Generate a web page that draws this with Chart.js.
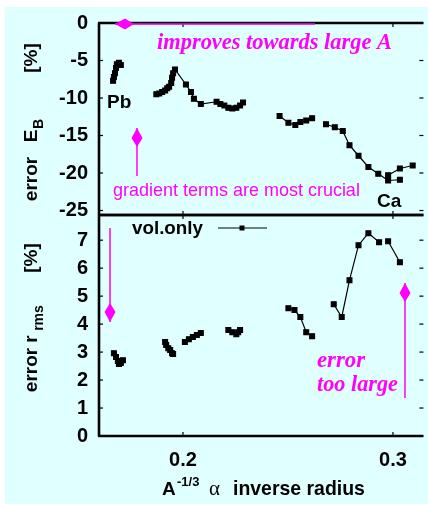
<!DOCTYPE html>
<html>
<head>
<meta charset="utf-8">
<script src="https://cdn.jsdelivr.net/npm/chart.js@4.4.0/dist/chart.umd.min.js"></script>
<style>
body { margin: 0; background: #fff; }
#wrap { position: relative; width: 428px; height: 506px; }
#wrap canvas { position: absolute; left: 0; top: 0; }
</style>
</head>
<body>
<div id="wrap">
<canvas id="topChart" width="428" height="506"></canvas>
<canvas id="botChart" width="428" height="506"></canvas>
</div>
<script>
// error of binding energy E_B [%], one array pair per isotope chain
const ebX1 = [0.1667, 0.1671, 0.1676, 0.1681, 0.1685, 0.1695, 0.1704];
const ebY1 = [-7.7, -7.2, -6.7, -6.0, -5.5, -5.3, -5.6];
const ebX2 = [0.1873, 0.1887, 0.1901, 0.1915, 0.1925, 0.1934, 0.1944, 0.1948, 0.1953, 0.1962,
              0.2014, 0.2038, 0.2052, 0.2085, 0.2160,
              0.2178, 0.2197, 0.2216, 0.2235, 0.2254, 0.2272, 0.2286];
const ebY2 = [-9.5, -9.4, -9.2, -9.0, -8.7, -8.5, -8.0, -7.3, -6.7, -6.2,
              -8.2, -9.2, -10.1, -10.8, -10.5,
              -10.8, -11.0, -11.3, -11.4, -11.3, -11.0, -10.6];
const ebX3 = [0.2460, 0.2502, 0.2535, 0.2559, 0.2587, 0.2615];
const ebY3 = [-12.4, -13.3, -13.6, -13.2, -13.0, -12.7];
const ebX4 = [0.2681, 0.2723, 0.2761, 0.2793, 0.2836, 0.2883, 0.2930, 0.2977, 0.3033];
const ebY4 = [-13.5, -13.9, -14.4, -16.3, -17.7, -19.2, -20.1, -21.0, -20.9];
const ebX5 = [0.2977, 0.3033, 0.3094];
const ebY5 = [-20.3, -19.4, -19.0];

// error of rms radius [%]
const rmsX1 = [0.1671, 0.1681, 0.1690, 0.1695, 0.1704, 0.1714];
const rmsY1 = [2.96, 2.82, 2.68, 2.57, 2.61, 2.71];
const rmsX2 = [0.1915, 0.1920, 0.1930, 0.1939, 0.1948, 0.1953];
const rmsY2 = [3.36, 3.25, 3.14, 3.07, 2.96, 2.93];
const rmsX3 = [0.2009, 0.2028, 0.2047, 0.2066, 0.2085];
const rmsY3 = [3.36, 3.46, 3.54, 3.61, 3.68];
const rmsX4 = [0.2216, 0.2235, 0.2254, 0.2263, 0.2272];
const rmsY4 = [3.79, 3.71, 3.64, 3.71, 3.79];
const rmsX5 = [0.2502, 0.2531, 0.2559, 0.2587, 0.2615];
const rmsY5 = [4.57, 4.50, 4.25, 3.71, 3.57];
const rmsX6 = [0.2718, 0.2756, 0.2793, 0.2836, 0.2883, 0.2934];
const rmsY6 = [4.71, 4.25, 5.57, 6.82, 7.25, 6.93];
const rmsX7 = [0.2977, 0.3033];
const rmsY7 = [6.96, 6.21];

const xTicks = [0.2, 0.3];

const MAGENTA = '#ff00ff';
const SANS = '"Liberation Sans", Arial, sans-serif';
const SERIF = '"Liberation Serif", "Times New Roman", serif';

function chain(xs, ys) {
  return {
    data: xs.map((x, i) => ({ x: x, y: ys[i] })),
    showLine: true,
    borderColor: '#000',
    backgroundColor: '#000',
    borderWidth: 1.2,
    pointStyle: 'rect',
    pointRadius: 3.4,
    pointHoverRadius: 3.4
  };
}

function line(ctx, x1, y1, x2, y2) {
  ctx.beginPath(); ctx.moveTo(x1, y1); ctx.lineTo(x2, y2); ctx.stroke();
}

// text squeezed/stretched to a given width by picking the font size
function fitText(ctx, text, x, y, width, style, family) {
  ctx.font = style + ' 100px ' + family;
  const size = 100 * width / ctx.measureText(text).width;
  ctx.font = style + ' ' + size.toFixed(2) + 'px ' + family;
  ctx.fillText(text, x, y);
}

// gnuplot-like filled arrow, head at (x2,y2)
function arrow(ctx, x1, y1, x2, y2) {
  const ang = Math.atan2(y2 - y1, x2 - x1);
  ctx.save();
  ctx.strokeStyle = MAGENTA; ctx.fillStyle = MAGENTA; ctx.lineWidth = 1.5;
  line(ctx, x1, y1, x2, y2);
  ctx.translate(x2, y2); ctx.rotate(ang);
  ctx.beginPath();
  ctx.moveTo(0, 0); ctx.lineTo(-10, -5.5); ctx.lineTo(-19, 0); ctx.lineTo(-10, 5.5);
  ctx.closePath(); ctx.fill();
  ctx.restore();
}

function frameAndTicks(ctx, chart) {
  const a = chart.chartArea, ys = chart.scales.y, xs = chart.scales.x;
  ctx.save();
  ctx.strokeStyle = '#000';
  ctx.lineWidth = 1.2;
  ys.ticks.forEach(t => {
    const y = ys.getPixelForValue(t.value);
    line(ctx, a.left, y, a.left + 4, y);
    line(ctx, a.right - 4, y, a.right, y);
  });
  xTicks.forEach(v => {
    const x = xs.getPixelForValue(v);
    line(ctx, x, a.top, x, a.top + 4);
    line(ctx, x, a.bottom - 4, x, a.bottom);
  });
  ctx.lineWidth = 2.6;
  line(ctx, a.left, a.top, a.left, a.bottom);
  line(ctx, a.left - 1, a.top, a.right, a.top);
  line(ctx, a.left - 1, a.bottom, a.right, a.bottom);
  ctx.restore();
}

// rotated words, each centred at a given screen y
function vText(ctx, text, x, y, font) {
  ctx.save();
  ctx.translate(x, y); ctx.rotate(-Math.PI / 2);
  ctx.font = font; ctx.textAlign = 'center'; ctx.textBaseline = 'middle';
  ctx.fillStyle = '#000';
  ctx.fillText(text, 0, 0);
  ctx.restore();
}

function yTitle(ctx, parts) {
  parts.forEach(p => vText(ctx, p[0], p[1], p[2], p[3]));
}

const TF = 'bold 19px ' + SANS, TS = 'bold 14px ' + SANS;

const topDecor = {
  id: 'topDecor',
  beforeDraw(chart) {
    const ctx = chart.ctx;
    ctx.save();
    ctx.fillStyle = '#e0ffff';
    ctx.fillRect(5, 7, 423, 497);
    ctx.restore();
  },
  afterDraw(chart) {
    const ctx = chart.ctx;
    frameAndTicks(ctx, chart);
    ctx.save();
    arrow(ctx, 315, 24, 115, 24);
    ctx.fillStyle = MAGENTA;
    ctx.textBaseline = 'alphabetic'; ctx.textAlign = 'left';
    fitText(ctx, 'improves towards large A', 157, 49, 235, 'italic bold', SERIF);
    arrow(ctx, 137, 176, 137, 128);
    fitText(ctx, 'gradient terms are most crucial', 113, 196, 247, 'normal', SANS);
    ctx.fillStyle = '#000';
    ctx.font = 'bold 19px ' + SANS;
    ctx.fillText('Pb', 107, 108);
    ctx.fillText('Ca', 377, 207);
    ctx.restore();
    yTitle(ctx, [
      ['error', 32, 179, TF], ['E', 32, 136, TF], ['B', 39, 124, TS], ['[%]', 32, 58, TF]
    ]);
  }
};

const botDecor = {
  id: 'botDecor',
  afterDraw(chart) {
    const ctx = chart.ctx;
    frameAndTicks(ctx, chart);
    ctx.save();
    arrow(ctx, 110, 228, 110, 322);
    arrow(ctx, 405, 398, 405, 283);
    ctx.fillStyle = MAGENTA;
    ctx.textAlign = 'left'; ctx.textBaseline = 'alphabetic';
    fitText(ctx, 'error', 317, 367, 48, 'italic bold', SERIF);
    fitText(ctx, 'too large', 317, 391, 81, 'italic bold', SERIF);
    // key
    ctx.fillStyle = '#000';
    ctx.textBaseline = 'middle';
    fitText(ctx, 'vol.only', 132, 229, 71, 'bold', SANS);
    ctx.strokeStyle = '#000'; ctx.lineWidth = 1.2;
    line(ctx, 218, 228, 267, 228);
    ctx.fillRect(239.5, 225.5, 5, 5);
    ctx.restore();
    yTitle(ctx, [
      ['error', 32, 370, TF], ['r', 32, 339, TF], ['rms', 39, 318, TS], ['[%]', 32, 258, TF]
    ]);
    // x title, pieces placed where they sit in the original
    ctx.save();
    ctx.fillStyle = '#000'; ctx.textBaseline = 'alphabetic'; ctx.textAlign = 'left';
    const by = 495;
    ctx.font = 'bold 19px ' + SANS; ctx.fillText('A', 162, by);
    ctx.font = 'bold 13px ' + SANS; ctx.fillText('-1/3', 177, by - 9);
    ctx.font = '21px ' + SERIF; ctx.fillText('\u03b1', 209, by);
    fitText(ctx, 'inverse radius', 233, by, 132, 'bold', SANS);
    ctx.restore();
  }
};

const xScale = (show) => ({
  type: 'linear',
  min: 0.16,
  max: 0.3145,
  display: show,
  grid: { display: false, drawTicks: false },
  border: { display: false },
  afterBuildTicks: s => { s.ticks = xTicks.map(v => ({ value: v })); },
  afterFit: s => { s.height = show ? 70 : 0; },
  ticks: {
    color: '#000',
    padding: 12,
    font: { family: SANS, size: 20, weight: 'bold' },
    callback: v => v.toFixed(1)
  }
});

const yScale = (min, max, step) => ({
  type: 'linear',
  min: min,
  max: max,
  grid: { display: false, drawTicks: false },
  border: { display: false },
  afterFit: s => { s.width = 99; },
  ticks: {
    stepSize: step,
    includeBounds: false,
    color: '#000',
    padding: 11,
    font: { family: SANS, size: 20, weight: 'bold' }
  }
});

const common = {
  responsive: false,
  animation: false,
  events: [],
  plugins: { legend: { display: false }, tooltip: { enabled: false } }
};

new Chart(document.getElementById('topChart'), {
  type: 'scatter',
  data: {
    datasets: [chain(ebX1, ebY1), chain(ebX2, ebY2), chain(ebX3, ebY3), chain(ebX4, ebY4), chain(ebX5, ebY5)]
  },
  options: Object.assign({}, common, {
    layout: { padding: { top: 15, right: 0, bottom: 291, left: 0 } },
    scales: { x: xScale(false), y: yScale(-25.6, 0, 5) }
  }),
  plugins: [topDecor]
});

new Chart(document.getElementById('botChart'), {
  type: 'scatter',
  data: {
    datasets: [chain(rmsX1, rmsY1), chain(rmsX2, rmsY2), chain(rmsX3, rmsY3), chain(rmsX4, rmsY4),
               chain(rmsX5, rmsY5), chain(rmsX6, rmsY6), chain(rmsX7, rmsY7)]
  },
  options: Object.assign({}, common, {
    layout: { padding: { top: 215, right: 0, bottom: 0, left: 0 } },
    scales: { x: xScale(true), y: yScale(0, 7.9, 1) }
  }),
  plugins: [botDecor]
});
</script>
</body>
</html>
